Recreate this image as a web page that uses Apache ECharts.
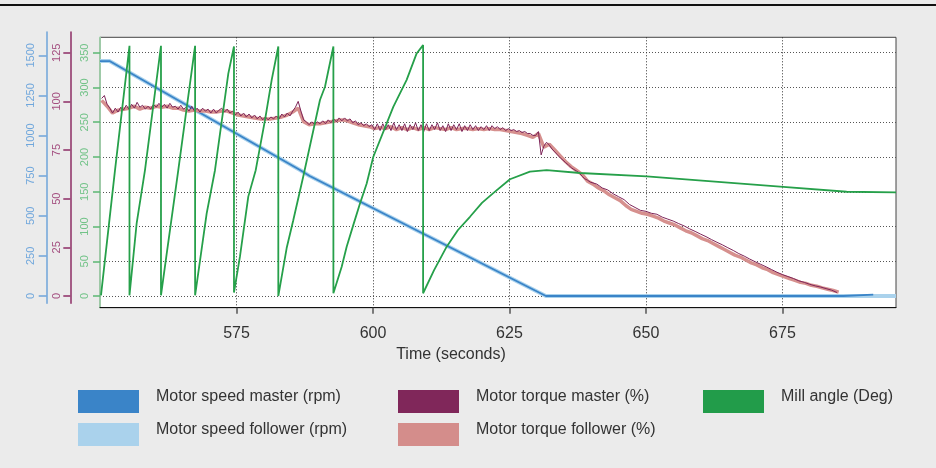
<!DOCTYPE html>
<html>
<head>
<meta charset="utf-8">
<script src="https://cdn.jsdelivr.net/npm/echarts@6/dist/echarts.min.js"></script>
<style>
  html, body { margin: 0; padding: 0; background: #ebebeb; }
  #chart { width: 936px; height: 468px; }
</style>
</head>
<body>
<div id="chart"></div>
<script>
// series names (legend)
const speedMasterName = 'Motor speed master (rpm)'
const speedFollowerName = 'Motor speed follower (rpm)'
const torqueMasterName = 'Motor torque master (%)'
const torqueFollowerName = 'Motor torque follower (%)'
const millName = 'Mill angle (Deg)'

// tick labels
const timeTicks = [575, 600, 625, 650, 675]
const millTicks = [0, 50, 100, 150, 200, 250, 300, 350]
const torqueTicks = [0, 25, 50, 75, 100, 125]
const speedTicks = [0, 250, 500, 750, 1000, 1250, 1500]

// motor speed (rpm)
const speedMasterTime = [550, 551.74, 586.63, 588.4, 631.68, 686.14, 686.5, 691.63]
const speedMaster = [1464, 1464, 785, 748, 0, 0, 9, 9]
const speedFollowerTime = [550, 551.74, 586.63, 588.4, 631.68, 695.8]
const speedFollower = [1464, 1464, 785, 748, 0, 0]

// motor torque master (%), sampled every 0.5 s from 550.3 s, then every 1 s from 641 s
const torqueMasterFastStart = 550.3
const torqueMasterFast = [
  101.5, 103, 98.5, 96.5, 94, 96.5, 94.5, 97, 95.5, 98,
  96, 98.5, 96.5, 99.5, 97, 98, 96, 97.5, 96, 98.5,
  97, 99, 97, 98.5, 96.5, 99, 97, 97.5, 96, 98,
  96, 97, 95, 97.5, 95, 96.5, 94.5, 96.5, 95, 96,
  94, 96, 94, 95.5, 96.5, 94.5, 96, 94, 95, 93,
  94.5, 92.5, 94, 92, 93.5, 91.5, 93, 91, 92.5, 90.5,
  92, 90.5, 92, 91, 92.5, 91, 93.5, 92, 94, 92.5,
  95, 97, 100, 95, 90.5, 89.5, 88, 89.5, 88, 89.5,
  88.5, 90, 88.5, 90.5, 89, 91, 89.5, 91.5, 90, 91.5,
  90, 91, 89, 90, 88, 89, 87.5, 88.5, 87, 88,
  85.5, 88.5, 85, 88.5, 85.5, 88, 85, 89, 85.5, 88,
  85, 88.5, 84.5, 88, 85.5, 89, 85, 88, 84.5, 88.5,
  85, 88, 85.5, 89, 85, 87.5, 84.5, 88.5, 85, 88,
  85.5, 88.5, 84.5, 87.5, 85, 88, 85.5, 87.5, 85, 87,
  85.5, 87.5, 85, 87.5, 86, 87, 85.5, 86.5, 85, 86,
  85, 85.5, 84.5, 85, 84, 84.5, 83.5, 83.5, 82.5, 82.5,
  84.5, 72.5, 77, 79, 77.5, 75.5, 74, 72.5, 71, 69.8,
  68.5, 67.3, 66, 65, 64.2, 63.2, 61.5, 60.2, 59.5, 58.5
]
const torqueMasterSlowStart = 641
const torqueMasterSlow = [
  57.5, 55.5, 54.5, 52.5, 51, 49.5, 47, 45.5, 44, 43.5,
  42.5, 42, 40.5, 39.5, 38.5, 37.2, 36, 34.5, 33.2, 31.8,
  30.5, 29, 27.6, 26.3, 24.8, 23.4, 21.8, 20.5, 19, 17.6,
  16.3, 15, 13.6, 12.2, 11, 10, 9, 7.8, 7, 6,
  5.2, 4.6, 3.8, 3, 1.8
]

// motor torque follower (%), sampled every 1 s from 550.3 s
const torqueFollowerStart = 550.3
const torqueFollower = [
  100.5, 97.5, 94, 95.5, 96, 96.5, 97.5, 96, 97, 96.5,
  97.5, 97, 97.5, 96.5, 96.5, 95.5, 95, 95.5, 95, 95,
  94.5, 94.5, 95, 95, 94, 93, 92.5, 92, 91.5, 91,
  91, 91, 91.5, 92, 93, 94.5, 96.5, 89.5, 88, 88.5,
  88.5, 89, 89.5, 90, 90.5, 90, 89, 88, 87.5, 87,
  86, 86.5, 86, 87, 85.5, 86.5, 85.5, 86.5, 85.5, 86.5,
  85.5, 86.5, 86, 85.5, 86.5, 85.5, 86, 86, 85.5, 86,
  85.5, 86, 85.5, 85.5, 85, 84.5, 84, 83.5, 82.5, 81.5,
  83.5, 76.5, 78, 75, 72, 69, 66.5, 64.5, 62.5, 59,
  57.5, 55.5, 54, 52, 50.5, 49, 46.5, 44.5, 43.5, 42.5,
  42, 41, 40, 38.5, 37.5, 36.5, 35, 33.5, 32.5, 31,
  29.5, 28.5, 27, 25.5, 24, 22.5, 21, 20, 18.5, 17,
  16, 14.5, 13.5, 12, 11, 10, 9, 8, 7, 6.5,
  5.5, 5, 4.2, 3.5, 2.8, 2
]

// mill angle (deg)
const millTime = [
  550.18, 552.75, 555.4, 555.4,
  556.72, 558.24, 561.17, 561.17,
  562.22, 564.34, 567.42, 567.42,
  569.54, 571.06, 573.5, 574.54, 574.54,
  575.64, 577.16, 578.52, 580.22, 581.45, 582.66, 582.66,
  583.28, 584.19, 585.4, 587.23, 590.29, 591.21, 592.75, 592.75,
  594.27, 595.18, 596.39, 597.62, 598.85, 600.05, 603.72, 606.17, 608.0, 609.18, 609.18,
  611.17, 613.5, 615.57, 617.77, 619.96, 622.03, 625.09, 628.75, 631.81, 637.91, 650.13, 675.15, 686.76, 695.8
]
const millAngle = [
  1, 181, 360, 1,
  105, 181, 360, 1,
  61, 181, 360, 1,
  119, 181, 320, 359, 5,
  57, 143, 181, 253, 311, 359, 0,
  28, 69, 109, 172, 282, 301, 359, 4,
  42, 71, 102, 133, 162, 200, 272, 311, 349, 361, 4,
  37, 71, 95, 114, 134, 148, 168, 179, 181, 177, 172, 157, 150, 149
]

const pair = (times, values) => values.map((v, i) => [times[i], v])
const sampled = (start, step, values) => values.map((v, i) => [+(start + i * step).toFixed(2), v])
const plain = (v) => String(v)

const font = 'Liberation Sans, Arial, sans-serif'

const chart = echarts.init(document.getElementById('chart'))

// swatch sits in the lower part of a taller item, so the text reads a little above its middle
const legendBase = {
  orient: 'vertical',
  top: 380,
  itemWidth: 61,
  itemHeight: 33,
  itemGap: 0,
  icon: 'path://M0,0 M0,10 L61,10 L61,33 L0,33 Z',
  selectedMode: false,
  padding: 0,
  textStyle: { fontFamily: font, fontSize: 16, color: '#333', padding: [0, 0, 0, 12] },
}

const option = {
  backgroundColor: '#ebebeb',
  animation: false,
  textStyle: { fontFamily: font },
  grid: [
    { left: 100, right: 40, top: 37.3, bottom: 160.3, show: true, backgroundColor: '#fff', borderColor: '#444', borderWidth: 1 },
    { left: 100, right: 40, top: 32, bottom: 164.7, show: false },
  ],
  legend: [
    { ...legendBase, left: 78, data: [speedMasterName, speedFollowerName] },
    { ...legendBase, left: 398, data: [torqueMasterName, torqueFollowerName] },
    { ...legendBase, left: 703, data: [millName] },
  ],
  xAxis: [
    {
      type: 'value',
      gridIndex: 0,
      min: 550,
      max: 695.8,
      axisLine: { onZero: false, lineStyle: { color: '#111', width: 1 } },
      axisTick: { length: 6, customValues: timeTicks, lineStyle: { color: '#555', width: 1.5 } },
      axisLabel: { margin: 18, fontSize: 16, color: '#333', customValues: timeTicks, formatter: plain },
      splitLine: { show: true, lineStyle: { color: '#333', type: [1, 2], width: 1 } },
    },
    { type: 'value', gridIndex: 1, min: 550, max: 695.8, show: false },
  ],
  yAxis: [
    {
      type: 'value',
      gridIndex: 0,
      position: 'left',
      min: -16.8,
      max: 372.2,
      axisLine: { show: true, lineStyle: { color: '#9fd8ab', width: 1.5 } },
      axisTick: { show: true, length: 7, customValues: millTicks, lineStyle: { color: '#5cb874', width: 1.5 } },
      axisLabel: { rotate: 90, margin: 10, customValues: millTicks, color: '#72c388', fontSize: 11, formatter: plain },
      splitLine: { show: true, lineStyle: { color: '#555', type: [1, 2], width: 1 } },
    },
    {
      type: 'value',
      gridIndex: 1,
      position: 'left',
      offset: 29.7,
      min: -3.75,
      max: 135.64,
      axisLine: { show: true, lineStyle: { color: '#8d2d65', width: 1.5 } },
      axisTick: { show: true, length: 7, customValues: torqueTicks, lineStyle: { color: '#8d2d65', width: 1.5 } },
      axisLabel: { rotate: 90, margin: 8, customValues: torqueTicks, color: '#a44f80', fontSize: 11, formatter: plain },
      splitLine: { show: false },
    },
    {
      type: 'value',
      gridIndex: 1,
      position: 'left',
      offset: 53.3,
      min: -45.5,
      max: 1645.2,
      axisLine: { show: true, lineStyle: { color: '#6fa4da', width: 1.5 } },
      axisTick: { show: true, length: 8, customValues: speedTicks, lineStyle: { color: '#6fa4da', width: 1.5 } },
      axisLabel: { rotate: 90, margin: 10, customValues: speedTicks, color: '#70a7dc', fontSize: 11, formatter: plain },
      splitLine: { show: false },
    },
  ],
  graphic: [
    { type: 'line', shape: { x1: 0, y1: 5, x2: 936, y2: 5 }, style: { stroke: '#111', lineWidth: 2 } },
    {
      type: 'text',
      x: 451,
      y: 355,
      style: { text: 'Time (seconds)', fill: '#333', font: '16px ' + font, align: 'center', verticalAlign: 'middle' },
    },
  ],
  series: [
    {
      name: speedFollowerName,
      type: 'line',
      xAxisIndex: 1,
      yAxisIndex: 2,
      symbol: 'none',
      color: '#aad2ec',
      lineStyle: { width: 4, color: '#aad2ec' },
      data: pair(speedFollowerTime, speedFollower),
    },
    {
      name: speedMasterName,
      type: 'line',
      xAxisIndex: 1,
      yAxisIndex: 2,
      symbol: 'none',
      color: '#3a84c8',
      lineStyle: { width: 1.8, color: '#3a84c8' },
      data: pair(speedMasterTime, speedMaster),
    },
    {
      name: torqueFollowerName,
      type: 'line',
      xAxisIndex: 1,
      yAxisIndex: 1,
      symbol: 'none',
      color: '#d48d8b',
      lineStyle: { width: 3.5, color: '#d6908e' },
      data: sampled(torqueFollowerStart, 1, torqueFollower),
    },
    {
      name: torqueMasterName,
      type: 'line',
      xAxisIndex: 1,
      yAxisIndex: 1,
      symbol: 'none',
      color: '#80275a',
      lineStyle: { width: 1, color: '#7d2458' },
      data: sampled(torqueMasterFastStart, 0.5, torqueMasterFast).concat(
        sampled(torqueMasterSlowStart, 1, torqueMasterSlow)
      ),
    },
    {
      name: millName,
      type: 'line',
      xAxisIndex: 0,
      yAxisIndex: 0,
      symbol: 'none',
      z: 5,
      color: '#229c4a',
      lineStyle: { width: 1.8, color: '#26a04a' },
      data: pair(millTime, millAngle),
    },
  ],
}

chart.setOption(option)
</script>
</body>
</html>
